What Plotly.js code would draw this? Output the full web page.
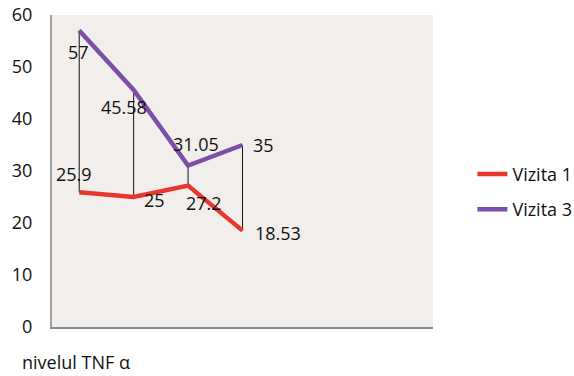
<!DOCTYPE html>
<html>
<head>
<meta charset="utf-8">
<script src="https://cdn.plot.ly/plotly-3.0.1.min.js"></script>
<style>html,body{margin:0;padding:0;background:#fff;}#chart{width:574px;height:376px;}</style>
</head>
<body>
<div id="chart"></div>
<script>
// Data
var categories = [0, 1, 2, 3];
var vizita1 = [25.9, 25, 27.2, 18.53];
var vizita3 = [57, 45.58, 31.05, 35];
var seriesNames = ["Vizita 1", "Vizita 3"];
var yTicks = [0, 10, 20, 30, 40, 50, 60];
var axisLabel = "nivelul TNF \u03b1";

// High-low (drop) lines built from data
var dropX = [], dropY = [];
for (var i = 0; i < categories.length; i++) {
  dropX.push(categories[i], categories[i], null);
  dropY.push(vizita1[i], vizita3[i], null);
}

var FONT = "'Open Sans', Lato, sans-serif";

var traces = [
  {x: dropX, y: dropY, mode: "lines", line: {color: "#111", width: 1}, showlegend: false, hoverinfo: "skip"},
  {x: categories, y: vizita1, name: seriesNames[0], legendgroup: "a", mode: "lines", line: {color: "#E8372F", width: 4.5}},
  {x: categories, y: vizita3, name: seriesNames[1], legendgroup: "b", mode: "lines", line: {color: "#7D4EA8", width: 4.5}}
];

// label offsets (px) per point
var off1 = [[-5, 18], [21, -3], [16, -17], [35, -2]];
var off3 = [[-1, -21], [-10, -17], [8, 22], [21, 0]];
var annotations = [];
function addLabels(vals, offs) {
  for (var i = 0; i < vals.length; i++) {
    annotations.push({x: categories[i], y: vals[i], xref: "x", yref: "y", text: String(vals[i]),
      showarrow: false, xshift: offs[i][0], yshift: offs[i][1], font: {family: FONT, size: 18, color: "#111"}});
  }
}
addLabels(vizita1, off1);
addLabels(vizita3, off3);
annotations.push({xref: "paper", yref: "paper", x: -0.085, y: -0.112, xanchor: "left", yanchor: "middle",
  text: axisLabel, showarrow: false, font: {family: FONT, size: 18, color: "#111"}});

var layout = {
  width: 574, height: 376,
  margin: {l: 52, r: 141, t: 15, b: 49},
  paper_bgcolor: "#fff",
  plot_bgcolor: "#F2EEEB",
  font: {family: FONT, size: 18, color: "#111"},
  xaxis: {range: [-0.5, 6.5], showticklabels: false, showgrid: false, zeroline: false,
    showline: true, linecolor: "#8a8a8a", linewidth: 2, ticks: "", fixedrange: true},
  yaxis: {range: [0, 60], tickvals: yTicks, showgrid: false, zeroline: false,
    showline: true, linecolor: "#a0a0a0", linewidth: 2, ticks: "", ticklabelstandoff: 14,
    tickfont: {family: FONT, size: 18, color: "#111"}},
  legend: {xref: "container", yref: "container", x: 0.823, y: 0.49, xanchor: "left", yanchor: "middle",
    bgcolor: "rgba(0,0,0,0)", font: {family: FONT, size: 18, color: "#111"}, itemwidth: 30, tracegroupgap: 9},
  annotations: annotations,
  showlegend: true
};

Plotly.newPlot("chart", traces, layout, {displayModeBar: false, staticPlot: true});
</script>
</body>
</html>
